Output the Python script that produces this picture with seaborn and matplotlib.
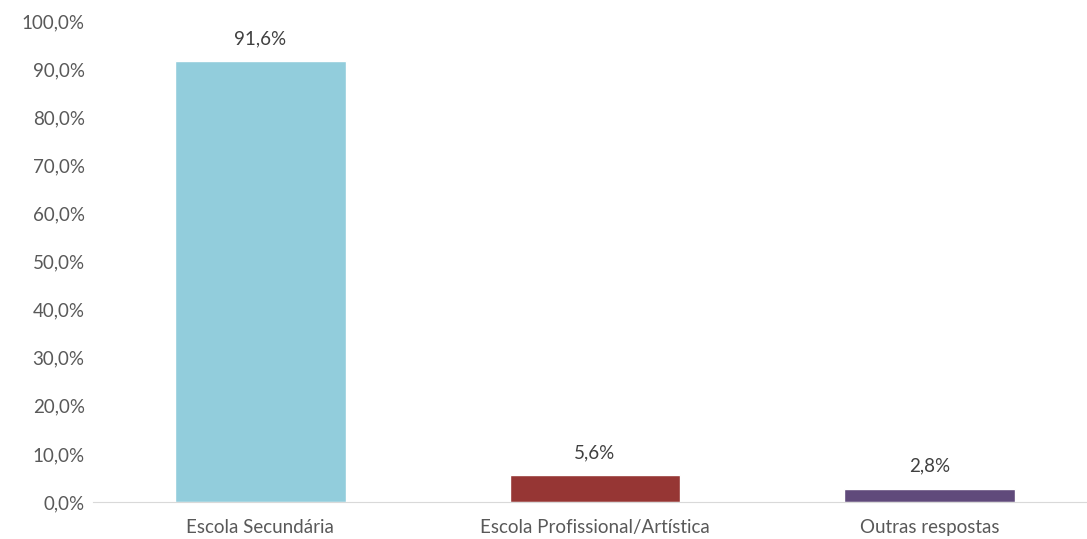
import seaborn as sns
import numpy as np
import pandas as pd
import matplotlib.pyplot as plt
from matplotlib.ticker import FuncFormatter

categories = ['Escola Secundária', 'Escola Profissional/Artística', 'Outras respostas']
values = [91.6, 5.6, 2.8]
colors = ['#92CDDC', '#963634', '#604A7B']

df = pd.DataFrame({'categoria': categories, 'valor': values})

sns.set_style('white')
plt.rcParams['font.family'] = ['Lato', 'DejaVu Sans']

fig = plt.figure(figsize=(10.87, 5.39), dpi=100)
ax = fig.add_axes([93 / 1087, 37 / 539, 1004 / 1087, 481 / 539])

sns.barplot(data=df, x='categoria', y='valor', hue='categoria', palette=colors,
            width=0.51, legend=False, ax=ax, saturation=1)

for i, v in enumerate(values):
    ax.text(i, v + 2.9, f'{v:.1f}%'.replace('.', ','), ha='center', va='bottom',
            fontsize=13.5, color='#404040')

ax.set_ylim(0, 100)
ax.set_yticks(np.arange(0, 101, 10))
ax.yaxis.set_major_formatter(FuncFormatter(lambda y, _: f'{y:.1f}%'.replace('.', ',')))
ax.set_xlim(-0.5, 2.5)
ax.set_xticks([-0.5, 0.5, 1.5, 2.5], minor=False)
ax.set_xticklabels([])
ax.set_xticks([0, 1, 2], minor=True)
ax.set_xticklabels(categories, minor=True)
ax.tick_params(axis='x', which='major', length=6, color='#D9D9D9', width=1, direction='out')
ax.tick_params(axis='x', which='minor', length=0, pad=12, labelsize=13.5, labelcolor='#595959')
ax.tick_params(axis='y', length=0, pad=6, labelsize=13.5, labelcolor='#595959')
ax.set_xlabel('')
ax.set_ylabel('')

for s in ['top', 'right', 'left']:
    ax.spines[s].set_visible(False)
ax.spines['bottom'].set_color('#D9D9D9')

fig.savefig('out.png', dpi=100)
